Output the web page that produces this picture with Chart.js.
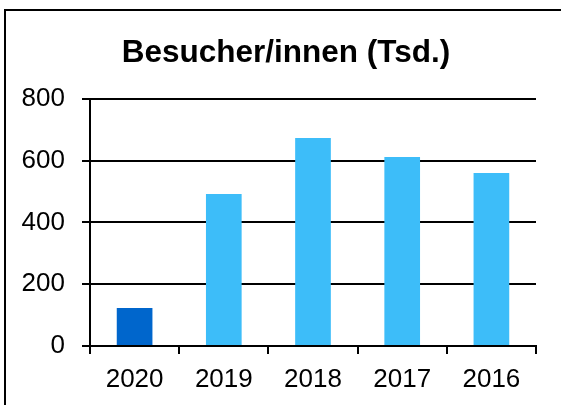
<!DOCTYPE html>
<html lang="de">
<head>
<meta charset="utf-8">
<title>Besucher/innen</title>
<script src="https://cdn.jsdelivr.net/npm/chart.js@4/dist/chart.umd.min.js"></script>
<style>
    html, body { margin: 0; padding: 0; background: #fff; }
    #wrap { position: relative; width: 561px; height: 405px; overflow: hidden; }
    #frame {
        position: absolute; left: 4px; top: 9px; width: 600px; height: 450px;
        border-left: 2px solid #000; border-top: 2px solid #000;
        pointer-events: none;
    }
    canvas { position: absolute; left: 0; top: 0; }
</style>
</head>
<body>
<div id="wrap">
    <canvas id="chart" width="561" height="405"></canvas>
    <div id="frame"></div>
</div>
<script>
    // Besucherzahlen in Tausend, aktuelles Jahr zuerst
    const years = ['2020', '2019', '2018', '2017', '2016'];
    const visitors = [123, 492, 673, 612, 560];
    const yMin = 0;
    const yMax = 800;
    const yStep = 200;

    const currentColor = '#0066CC';
    const pastColor = '#3DBDF9';
    const fontFamily = '"Liberation Sans", Arial, Helvetica, sans-serif';

    const ctx = document.getElementById('chart').getContext('2d');
    new Chart(ctx, {
        type: 'bar',
        data: {
            labels: years,
            datasets: [{
                label: 'Besucher/innen (Tsd.)',
                data: visitors,
                backgroundColor: (c) => c.dataIndex === 0 ? currentColor : pastColor,
                borderWidth: 0,
                barPercentage: 0.4,
                categoryPercentage: 1
            }]
        },
        options: {
            responsive: false,
            animation: false,
            layout: { padding: { left: 11, right: 0, top: 0, bottom: 0 } },
            plugins: {
                legend: { display: false },
                tooltip: { enabled: false },
                title: {
                    display: true,
                    text: 'Besucher/innen (Tsd.)',
                    color: '#000',
                    font: { family: fontFamily, size: 31.5, weight: 'bold', lineHeight: 1.2 },
                    padding: { top: 34, bottom: 27 }
                }
            },
            scales: {
                x: {
                    offset: true,
                    grid: {
                        offset: true,
                        drawOnChartArea: false,
                        drawTicks: true,
                        tickLength: 8,
                        color: '#000',
                        lineWidth: 2
                    },
                    border: { display: true, color: '#000', width: 2 },
                    ticks: {
                        color: '#000',
                        padding: 10,
                        font: { family: fontFamily, size: 26 }
                    },
                    afterFit: (scale) => { scale.height = 59; }
                },
                y: {
                    min: yMin,
                    max: yMax,
                    grid: {
                        color: '#000',
                        lineWidth: 2,
                        drawTicks: true,
                        tickLength: 8
                    },
                    border: { display: true, color: '#000', width: 2 },
                    ticks: {
                        stepSize: yStep,
                        color: '#000',
                        padding: 17,
                        font: { family: fontFamily, size: 26 }
                    },
                    afterFit: (scale) => { scale.width = 79; }
                },
                // leere Achse rechts, hält den Rand neben dem Diagramm frei
                spacer: {
                    type: 'linear',
                    position: 'right',
                    grid: { display: false },
                    border: { display: false },
                    ticks: { display: false },
                    afterFit: (scale) => { scale.width = 25; }
                }
            }
        }
    });
</script>
</body>
</html>
